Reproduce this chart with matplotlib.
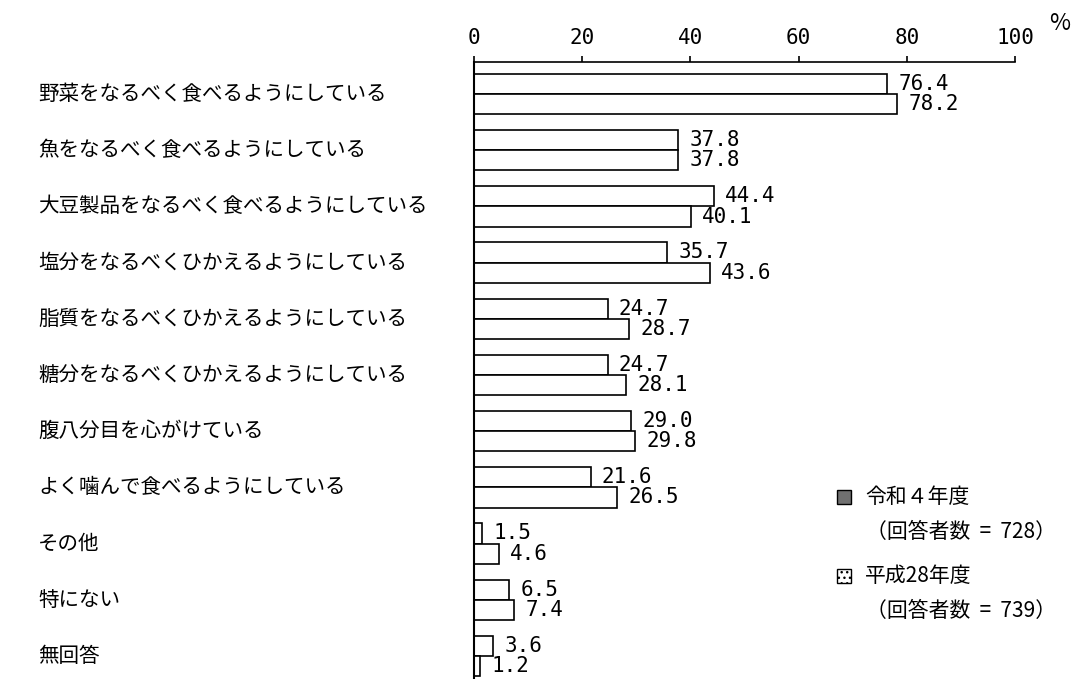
import matplotlib
matplotlib.use("Agg")
import matplotlib.pyplot as plt
import matplotlib.transforms as mtransforms
from matplotlib.patches import Rectangle

# データ
categories = [
    "野菜をなるべく食べるようにしている",
    "魚をなるべく食べるようにしている",
    "大豆製品をなるべく食べるようにしている",
    "塩分をなるべくひかえるようにしている",
    "脂質をなるべくひかえるようにしている",
    "糖分をなるべくひかえるようにしている",
    "腹八分目を心がけている",
    "よく噛んで食べるようにしている",
    "その他",
    "特にない",
    "無回答",
]
r4_values = [76.4, 37.8, 44.4, 35.7, 24.7, 24.7, 29.0, 21.6, 1.5, 6.5, 3.6]
h28_values = [78.2, 37.8, 40.1, 43.6, 28.7, 28.1, 29.8, 26.5, 4.6, 7.4, 1.2]
x_ticks = [0, 20, 40, 60, 80, 100]
legend_labels = [("令和４年度", "（回答者数  =  728）"), ("平成28年度", "（回答者数  =  739）")]

jp_font = ["Noto Sans CJK JP", "DejaVu Sans"]
num_font = ["DejaVu Sans Mono"]

fig = plt.figure(figsize=(10.77, 6.79), dpi=100)
ax = fig.add_axes([474 / 1077, 0, (1015 - 474) / 1077, 1 - 62 / 679])

h = 0.36
for i, (a, b) in enumerate(zip(r4_values, h28_values)):
    ax.barh(i - h / 2, a, height=h, color="white", edgecolor="black", linewidth=1.2)
    ax.barh(i + h / 2, b, height=h, color="white", edgecolor="black", linewidth=1.2)
    ax.annotate(f"{a:.1f}", (a, i - h / 2), xytext=(8, 0), textcoords="offset points",
                ha="left", va="center", fontsize=15, family=num_font)
    ax.annotate(f"{b:.1f}", (b, i + h / 2), xytext=(8, 0), textcoords="offset points",
                ha="left", va="center", fontsize=15, family=num_font)

ax.set_xlim(0, 100)
ax.set_ylim(10.41, -0.57)
ax.xaxis.tick_top()
ax.set_xticks(x_ticks)
ax.set_xticklabels([str(t) for t in x_ticks], family=num_font, fontsize=15)
ax.tick_params(axis="x", direction="out", length=4, width=1.2, pad=6)
ax.set_yticks([])
for s in ["right", "bottom"]:
    ax.spines[s].set_visible(False)
ax.spines["top"].set_linewidth(1.2)
ax.spines["left"].set_linewidth(1.5)

# 項目ラベル
trans = mtransforms.blended_transform_factory(fig.transFigure, ax.transData)
for i, c in enumerate(categories):
    ax.text(38 / 1077, i, c, transform=trans, ha="left", va="center",
            fontsize=14.8, family=jp_font, clip_on=False)

fig.text(1060 / 1077, 1 - 23 / 679, "%", ha="center", va="center", fontsize=16.5, family=jp_font)

# 凡例
legend_y = [497, 576]
for k, (l1, l2) in enumerate(legend_labels):
    y = legend_y[k]
    if k == 0:
        p = Rectangle((837 / 1077, 1 - (y + 7) / 679), 14 / 1077, 14 / 679,
                      transform=fig.transFigure, facecolor="#707070", edgecolor="black", lw=1)
    else:
        p = Rectangle((837 / 1077, 1 - (y + 7) / 679), 14 / 1077, 14 / 679,
                      transform=fig.transFigure, facecolor="white", edgecolor="black",
                      hatch="...", lw=1)
    fig.patches.append(p)
    fig.text(865 / 1077, 1 - y / 679, l1, ha="left", va="center", fontsize=15, family=jp_font)
    fig.text(866 / 1077, 1 - (y + 35) / 679, l2, ha="left", va="center", fontsize=15, family=jp_font)

fig.savefig("out.png", dpi=100)
